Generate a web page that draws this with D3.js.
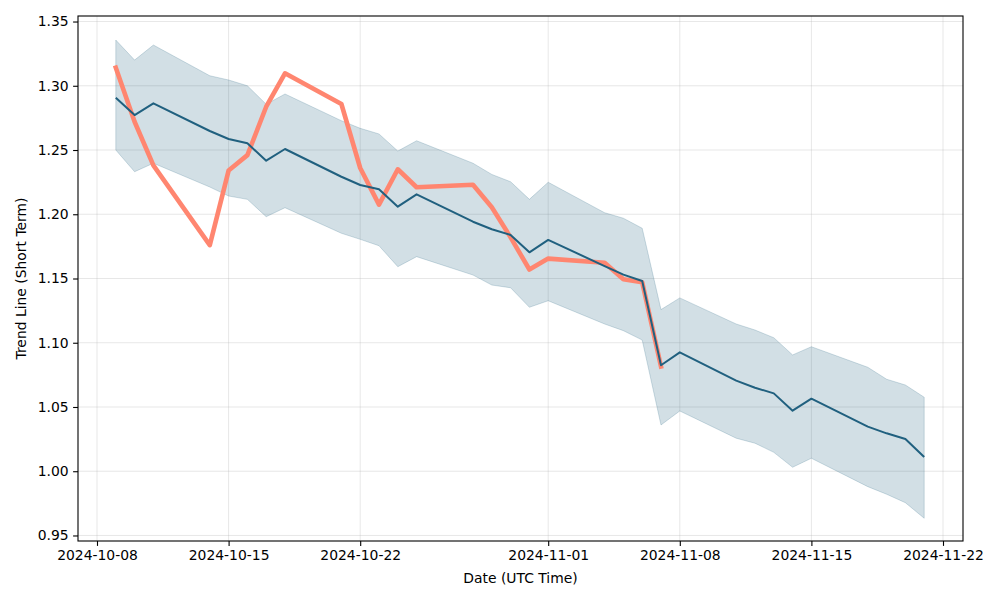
<!DOCTYPE html>
<html><head><meta charset="utf-8">
<script src="https://cdn.jsdelivr.net/npm/d3@7"></script>
<style>body{margin:0;background:#fff;} text{font-family:"DejaVu Sans",sans-serif;}</style>
</head><body>
<svg id="c" width="1000" height="600"></svg>
<script>
const dates = ["2024-10-09","2024-10-10","2024-10-11","2024-10-14","2024-10-15","2024-10-16","2024-10-17","2024-10-18",
"2024-10-21","2024-10-22","2024-10-23","2024-10-24","2024-10-25","2024-10-28","2024-10-29","2024-10-30","2024-10-31","2024-11-01",
"2024-11-04","2024-11-05","2024-11-06","2024-11-07","2024-11-08","2024-11-11","2024-11-12","2024-11-13","2024-11-14","2024-11-15",
"2024-11-18","2024-11-19","2024-11-20","2024-11-21"];
const trend = [1.2907,1.2772,1.2863,1.2648,1.2586,1.2552,1.2417,1.2508,1.2292,1.2228,1.2194,1.2059,1.2155,1.1942,1.1883,1.1839,1.1704,1.1800,
1.1597,1.1530,1.1480,1.0825,1.0925,1.0705,1.0650,1.0606,1.0471,1.0565,1.0347,1.0295,1.0251,1.0111];
const upper = [1.3356,1.3200,1.3317,1.3078,1.3045,1.3000,1.2856,1.2936,1.2728,1.2669,1.2625,1.2492,1.2572,1.2397,1.2310,1.2253,1.2116,1.2249,
1.2012,1.1969,1.1891,1.1258,1.1349,1.1146,1.1099,1.1039,1.0905,1.0969,1.0809,1.0716,1.0671,1.0576];
const lower = [1.2500,1.2331,1.2397,1.2212,1.2142,1.2116,1.1981,1.2051,1.1852,1.1805,1.1755,1.1592,1.1670,1.1527,1.1449,1.1428,1.1276,1.1327,
1.1146,1.1094,1.1021,1.0360,1.0469,1.0257,1.0218,1.0147,1.0031,1.0101,0.9880,0.9821,0.9755,0.9634];
const actual = [1.3140,1.2720,1.2380,1.1760,1.2340,1.2460,1.2837,1.3097,1.2858,1.2360,1.2075,1.2350,1.2210,1.2230,1.2054,1.1820,1.1570,1.1655,
1.1623,1.1494,1.1470,1.0815];
const xTicks = ["2024-10-08","2024-10-15","2024-10-22","2024-11-01","2024-11-08","2024-11-15","2024-11-22"];
const yTicks = [0.95,1.00,1.05,1.10,1.15,1.20,1.25,1.30,1.35];

const parse = d3.utcParse("%Y-%m-%d");
const L=78,R=963,T=16,B=541;
const svg = d3.select("#c");
const x = d3.scaleUtc().domain([Date.UTC(2024,9,6,23,45), Date.UTC(2024,10,23,1,32)]).range([L,R]);
const y = d3.scaleLinear().domain([0.9457,1.3543]).range([B,T]);

const data = dates.map((d,i)=>({d:parse(d),t:trend[i],u:upper[i],l:lower[i],a:actual[i]}));

// grid
const g = svg.append("g");
xTicks.forEach(t=>{ g.append("line").attr("x1",x(parse(t))).attr("x2",x(parse(t))).attr("y1",T).attr("y2",B)
  .attr("stroke","#b0b0b0").attr("stroke-opacity",0.35).attr("stroke-width",0.9); });
yTicks.forEach(t=>{ g.append("line").attr("y1",y(t)).attr("y2",y(t)).attr("x1",L).attr("x2",R)
  .attr("stroke","#b0b0b0").attr("stroke-opacity",0.35).attr("stroke-width",0.9); });

const col = "#20607f";
svg.append("path").datum(data).attr("d", d3.area().x(d=>x(d.d)).y0(d=>y(d.l)).y1(d=>y(d.u)))
  .attr("fill",col).attr("fill-opacity",0.2).attr("stroke",col).attr("stroke-opacity",0.2).attr("stroke-width",1);

svg.append("path").datum(data.filter(d=>d.a!==undefined)).attr("d", d3.line().x(d=>x(d.d)).y(d=>y(d.a)))
  .attr("fill","none").attr("stroke","#ff8670").attr("stroke-width",4.6).attr("stroke-linejoin","round").attr("stroke-linecap","square");
svg.append("path").datum(data).attr("d", d3.line().x(d=>x(d.d)).y(d=>y(d.t)))
  .attr("fill","none").attr("stroke",col).attr("stroke-width",2).attr("stroke-linejoin","round");

// axes
const xa = svg.append("g").attr("transform",`translate(0,${B})`)
  .call(d3.axisBottom(x).tickValues(xTicks.map(parse)).tickFormat(d3.utcFormat("%Y-%m-%d")).tickSize(4.9).tickPadding(4.5));
const ya = svg.append("g").attr("transform",`translate(${L},0)`)
  .call(d3.axisLeft(y).tickValues(yTicks).tickFormat(d3.format(".2f")).tickSize(4.9).tickPadding(4.5));
[xa,ya].forEach(a=>{ a.select(".domain").remove(); a.selectAll("text").attr("font-size","13.9px").attr("font-family","DejaVu Sans").attr("fill","#000");
  a.selectAll("line").attr("stroke","#000").attr("stroke-width",1.1); });

svg.append("rect").attr("x",L).attr("y",T).attr("width",R-L).attr("height",B-T).attr("fill","none").attr("stroke","#000").attr("stroke-width",1.1);

svg.append("text").attr("x",(L+R)/2).attr("y",583).attr("text-anchor","middle").attr("font-size","13.9px").text("Date (UTC Time)");
svg.append("text").attr("transform",`translate(26,${(T+B)/2}) rotate(-90)`).attr("text-anchor","middle").attr("font-size","13.9px").text("Trend Line (Short Term)");
</script>
</body></html>
